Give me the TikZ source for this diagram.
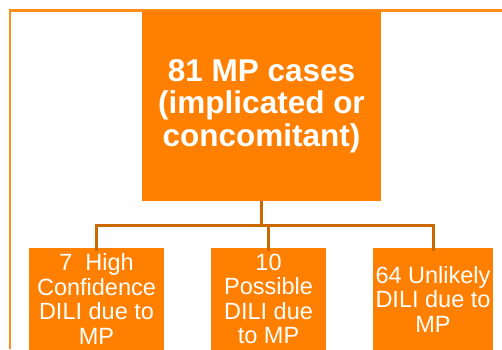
\documentclass[tikz,border=0pt]{standalone}
\usepackage{fontspec}
\setmainfont{Liberation Sans}
\usetikzlibrary{positioning}
\usetikzlibrary{calc}
\definecolor{boxorange}{RGB}{255,128,0}
\definecolor{lineorange}{RGB}{204,104,0}
\tikzstyle{topbox}=[rectangle,fill=boxorange,text=white,align=center,inner sep=0pt,minimum width=239pt,minimum height=190pt,font=\fontsize{31.5}{32.5}\selectfont\bfseries]
\tikzstyle{leafbox}=[rectangle,fill=boxorange,text=white,align=center,inner sep=0pt,minimum height=102pt,font=\fontsize{23.5}{24.5}\selectfont]
\tikzstyle{link} = [draw=lineorange, line width=3pt]

\begin{document}
\begin{tikzpicture}[x=1pt, y=-1pt]

   \useasboundingbox[fill=white] (0,0) rectangle (502,349);

   % frame round the chart
   \draw[boxorange!90!white, line width=2.2pt] (10,349) -- (10,10.5) -- (502,10.5);

   \node[topbox] (mp) at (261.5,106) {81 MP cases\\(implicated or\\concomitant)};

    \foreach \pos/\boxw/\name/\txt in {{(96.5,299)/135/high/{7~ High\\Confidence\\DILI due to\\MP}}, {(268.5,299)/115/possible/{10\\Possible\\DILI due\\to MP}}, {(433,299)/120/unlikely/{64 Unlikely\\DILI due to\\MP}}}
        \node[leafbox, minimum width=\boxw pt] (\name) at \pos {\txt};

   \coordinate (split) at (261.5,225);
   \draw[link] (mp.south) -- (split);
    \foreach \dest in {high, possible, unlikely}
                \draw[link] (split) -| ($(\dest.north)+(0,3)$);

\end{tikzpicture}
\end{document}
